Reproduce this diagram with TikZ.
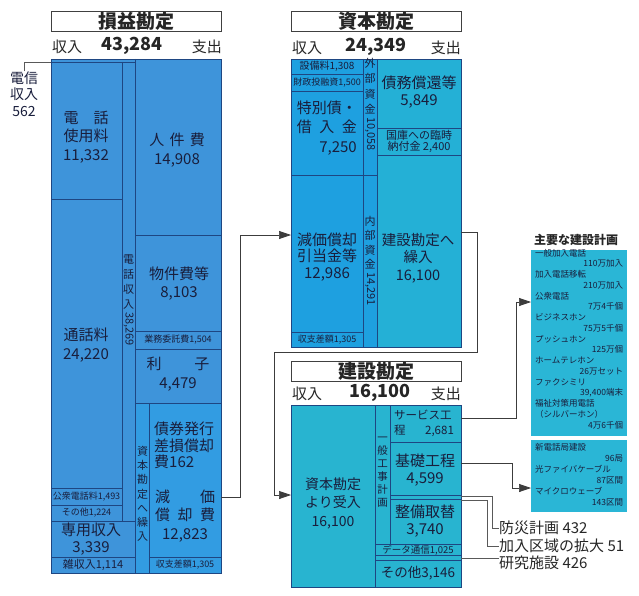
\documentclass[tikz,border=0pt]{standalone}
\usepackage{fontspec}
\setmainfont{Noto Sans CJK JP}
\usepackage{graphicx}
\usetikzlibrary{arrows.meta}
\definecolor{plblue}{RGB}{62,148,218}
\definecolor{plblue2}{RGB}{50,156,226}
\definecolor{capin}{RGB}{30,160,224}
\definecolor{capout}{RGB}{36,176,214}
\definecolor{cons}{RGB}{40,180,208}
\definecolor{plan}{RGB}{42,182,214}
\definecolor{divl}{RGB}{30,70,130}
\definecolor{txt}{RGB}{25,30,60}
\definecolor{conncol}{RGB}{60,60,60}
\newcommand\myfs[2]{\fontsize{#1}{#2}\selectfont}
\begin{document}
\begin{tikzpicture}[x=1pt,y=-1pt,
  lbl/.style={inner sep=0pt, text=txt, align=center},
  sm/.style={lbl, font=\myfs{9}{10}},
  bg/.style={lbl, font=\myfs{15}{18.5}},
  vt/.style={lbl, font=\myfs{11}{15}},
  divider/.style={draw=divl, line width=0.5pt},
  titlebox/.style={draw=black!75, fill=white, line width=0.7pt, minimum width=170pt, minimum height=20pt, inner sep=0pt, font=\myfs{19}{20}\bfseries, text=black!85},
  hdr/.style={inner sep=0pt, text=black!85, font=\myfs{15}{16}},
  hdrnum/.style={inner sep=0pt, text=black!85, font=\myfs{18}{19}\bfseries},
  conn/.style={draw=conncol, line width=0.7pt},
  arr/.style={conn, -{Triangle[length=12pt,width=8pt]}},
  leader/.style={draw=black!65, line width=0.5pt},
]
\useasboundingbox (0,0) rectangle (639,596);
\fill[white] (0,0) rectangle (639,596);

% ---------- titles and headers
\node[titlebox] (t1) at (136,21.5) {損益勘定};
\node[titlebox] (t2) at (376,21.5) {資本勘定};
\node[titlebox] (t3) at (376,371) {建設勘定};
\node[hdr, anchor=west] (h1a) at (52,47) {収入};
\node[hdrnum] (h1b) at (132,46) {43,284};
\node[hdr, anchor=east] (h1c) at (222,47) {支出};
\node[hdr, anchor=west] (h2a) at (292,48) {収入};
\node[hdrnum] (h2b) at (376,47) {24,349};
\node[hdr, anchor=east] (h2c) at (461,48) {支出};
\node[hdr, anchor=west] (h3a) at (292,394) {収入};
\node[hdrnum] (h3b) at (380,393) {16,100};
\node[hdr, anchor=east] (h3c) at (461,394) {支出};

% ---------- profit and loss block
\fill[plblue] (51,59) rectangle (221,573);
\fill[plblue2] (135.5,403) rectangle (221,573);
\draw[divider] (51,59) rectangle (221,573);
\draw[divider] (135.5,59) -- (135.5,573);
\draw[divider] (51,62) -- (135.5,62);
\draw[divider] (122,62) -- (122,521);
\draw[divider] (51,199) -- (122,199);
\draw[divider] (51,488) -- (122,488);
\draw[divider] (51,505) -- (122,505);
\draw[divider] (51,521) -- (135.5,521);
\draw[divider] (51,557) -- (135.5,557);
\draw[divider] (135.5,235) -- (221,235);
\draw[divider] (135.5,331) -- (221,331);
\draw[divider] (135.5,349) -- (221,349);
\draw[divider] (135.5,403) -- (221,403);
\draw[divider] (149,403) -- (149,573);
\draw[divider] (149,557) -- (221,557);

\node[bg] (denwa) at (86,137) {電\hspace{1em}話\\使用料\\11,332};
\node[bg] (jinken) at (177,150) {人\hspace{.35em}件\hspace{.35em}費\\14,908};
\node[bg] (tsuwa) at (86,345) {通話料\\24,220};
\node[bg] (bukken) at (179,283.5) {物件費等\\8,103};
\node[sm] (gyomu) at (178,340) {業務委託費1,504};
\node[bg] (rishi) at (178,374) {利\hspace{2.2em}子\\4,479};
\node[bg, font=\myfs{15}{16.5}, align=left, anchor=north west] (saiken) at (154,422) {債券発行\\差損償却\\費162};
\node[bg] (genka) at (185,516) {減\hspace{2em}価\\償\hspace{.5em}却\hspace{.5em}費\\12,823};
\node[sm] (koshu) at (86.5,496.5) {公衆電話料1,493};
\node[sm] (sonota1) at (86.5,513) {その他1,224};
\node[bg, font=\myfs{15}{17}] (senyo) at (91,539) {専用収入\\3,339};
\node[lbl, font=\myfs{11}{12}] (zatsu) at (93,565) {雑収入1,114};
\node[sm] (shushi1) at (185,565) {収支差額1,305};
\node[vt, anchor=north] (v1) at (128.5,255) {電\\話\\収\\入};
\node[vt, rotate=-90, anchor=west] (v1n) at (128.5,312) {38,269};
\node[vt, font=\myfs{11}{14.2}, anchor=north] (v2) at (142.5,446) {資\\本\\勘\\定\\へ\\繰\\入};
\node[lbl, font=\myfs{14}{16.5}] (denshin) at (24,94) {電信\\収入\\562};
\coordinate (tsL) at (51,62);
\draw[leader] (denshin.north) |- (tsL);

% ---------- capital block
\fill[capin] (291,59) rectangle (377,347);
\fill[capout] (377,59) rectangle (461,347);
\draw[divider] (291,59) rectangle (461,347);
\draw[divider] (363,59) -- (363,347);
\draw[divider] (377,59) -- (377,347);
\draw[divider] (291,74.5) -- (363,74.5);
\draw[divider] (291,91) -- (363,91);
\draw[divider] (291,175) -- (377,175);
\draw[divider] (291,332) -- (363,332);
\draw[divider] (377,128) -- (461,128);
\draw[divider] (377,155) -- (461,155);

\node[lbl, font=\myfs{10}{11}] (setsubi) at (327,66.5) {設備料1,308};
\node[sm] (zaisei) at (327,82.5) {財政投融資1,500};
\node[bg, font=\myfs{15}{19.5}, align=right, anchor=east] (tokubetsu) at (357,128) {特別債・\\借\hspace{.5em}入\hspace{.5em}金\\7,250};
\node[bg, font=\myfs{15}{16.5}] (hikiate) at (327,257) {減価償却\\引当金等\\12,986};
\node[sm] (shushi2) at (327,340) {収支差額1,305};
\node[bg, font=\myfs{15}{17}] (saimu) at (419,92) {債務償還等\\5,849};
\node[lbl, font=\myfs{11}{11.5}] (kokko) at (419,141.5) {国庫への臨時\\納付金 2,400};
\node[bg, font=\myfs{14.5}{17.5}] (kuriire) at (418,258) {建設勘定へ\\繰入\\16,100};
\node[vt, font=\myfs{11}{15.5}, anchor=north] (v3) at (370,58) {外\\部\\資\\金};
\node[vt, rotate=-90, anchor=west] (v3n) at (370,117) {10,058};
\node[vt, font=\myfs{11}{14.5}, anchor=north] (v4) at (370,216) {内\\部\\資\\金};
\node[vt, rotate=-90, anchor=west] (v4n) at (370,272) {14,291};

% ---------- construction block
\fill[cons] (291,405) rectangle (461,587);
\draw[divider] (291,405) rectangle (461,587);
\draw[divider] (375,405) -- (375,587);
\draw[divider] (390,405) -- (390,544);
\draw[divider] (390,442) -- (461,442);
\draw[divider] (390,495) -- (461,495);
\draw[divider] (390,499) -- (461,499);
\draw[divider] (375,544) -- (461,544);
\draw[divider] (375,555.5) -- (461,555.5);
\draw[divider] (375,560) -- (461,560);

\node[bg, font=\myfs{14}{18.5}] (ukeire) at (333,503) {資本勘定\\より受入\\16,100};
\node[lbl, font=\myfs{11.5}{15}, align=left] (service) at (424,423) {サービス工\\程\hspace{1.7em}2,681};
\node[bg, font=\myfs{15}{17}] (kiso) at (425,470) {基礎工程\\4,599};
\node[bg, font=\myfs{15}{17}] (seibi) at (425,521.5) {整備取替\\3,740};
\node[lbl, font=\myfs{9.5}{10}] (data) at (418,550) {データ通信1,025};
\node[lbl, font=\myfs{13.5}{14}] (sonota2) at (418,573) {その他3,146};
\node[vt, font=\myfs{10.5}{13}, anchor=north] (v5) at (382.5,437) {一\\般\\工\\事\\計\\画};

% ---------- plan boxes
\node[lbl, font=\myfs{12}{13}\bfseries, text=black!85] (pt) at (576,240) {主要な建設計画};
\fill[plan] (531,250) rectangle (627,436);
\fill[plan] (531,440) rectangle (627,512);
\node[lbl, font=\myfs{8.5}{10.75}, text width=88pt, align=left] (p1) at (579,339) {一般加入電話\\\hspace*{\fill}110万加入\\加入電話移転\\\hspace*{\fill}210万加入\\公衆電話\\\hspace*{\fill}7万4千個\\ビジネスホン\\\hspace*{\fill}75万5千個\\プッシュホン\\\hspace*{\fill}125万個\\ホームテレホン\\\hspace*{\fill}26万セット\\ファクシミリ\\\hspace*{\fill}39,400端末\\福祉対策用電話\\（シルバーホン）\\\hspace*{\fill}4万6千個};
\node[lbl, font=\myfs{8.5}{11}, text width=88pt, align=left] (p2) at (579,474.5) {新電話局建設\\\hspace*{\fill}96局\\光ファイバケーブル\\\hspace*{\fill}87区間\\マイクロウェーブ\\\hspace*{\fill}143区間};

% ---------- leader labels
\node[lbl, anchor=west, font=\myfs{15}{16}, text=black!85] (l1) at (499,528) {防災計画 432};
\node[lbl, anchor=west, font=\myfs{15}{16}, text=black!85] (l2) at (499,546) {加入区域の拡大 51};
\node[lbl, anchor=west, font=\myfs{15}{16}, text=black!85] (l3) at (499,563) {研究施設 426};

% ---------- connectors
\coordinate (depR) at (221,497);
\coordinate (hikiL) at (291,235);
\coordinate (kuriR) at (461,232);
\coordinate (ukeL) at (291,495);
\coordinate (svcR) at (461,418);
\coordinate (kisoR) at (461,463);
\coordinate (plan1L) at (531,302);
\coordinate (plan2L) at (531,488);
\coordinate (bosaiR) at (461,496.5);
\coordinate (kanyuR) at (461,500);
\coordinate (kenkyuR) at (461,558);

\draw[arr] (depR) -- (240,497) |- (hikiL);
\draw[arr] (kuriR) -- (477,232) -- (477,352) -- (274,352) |- (ukeL);
\draw[arr] (svcR) -- (516,418) |- (plan1L);
\draw[arr] (kisoR) -- (512,463) |- (plan2L);
\draw[leader] (bosaiR) -- (492,496.5) |- (l1.west);
\draw[leader] (kanyuR) -- (487,500) |- (l2.west);
\draw[leader] (kenkyuR) -- (l3.west |- kenkyuR);
\end{tikzpicture}
\end{document}
